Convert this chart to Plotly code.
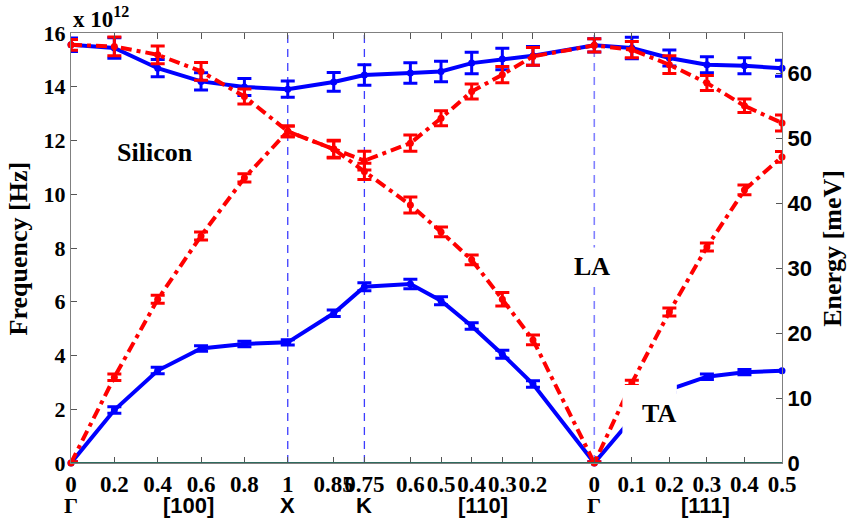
import numpy as np
import plotly.graph_objects as go

# Reduced wave-vector coordinates along each high-symmetry direction
q100 = [0, 0.2, 0.4, 0.6, 0.8, 1.0]
q110 = [1.0, 0.85, 0.75, 0.60, 0.50, 0.40, 0.30, 0.2, 0]
q111 = [0, 0.1, 0.2, 0.3, 0.4, 0.5]

tick100 = ["0", "0.2", "0.4", "0.6", "0.8", "1"]
tick110 = ["0.85", "0.75", "0.6", "0.5", "0.4", "0.3", "0.2", "0"]
tick111 = ["0.1", "0.2", "0.3", "0.4", "0.5"]

# Phonon frequencies (units of 1e12 Hz) and their uncertainties
ta100 = [0, 1.97, 3.44, 4.26, 4.43, 4.49]
ta110 = [4.49, 5.57, 6.56, 6.66, 6.04, 5.10, 4.05, 2.94, 0]
ta111 = [0, 1.65, 2.73, 3.21, 3.38, 3.43]
ta_err100 = [0.05, 0.12, 0.12, 0.10, 0.10, 0.10]
ta_err110 = [0.10, 0.12, 0.15, 0.18, 0.15, 0.12, 0.15, 0.12, 0.05]
ta_err111 = [0.05, 0.10, 0.10, 0.10, 0.10, 0.0]

to100 = [15.56, 15.44, 14.69, 14.20, 13.99, 13.91]
to110 = [13.91, 14.18, 14.44, 14.51, 14.57, 14.88, 15.03, 15.15, 15.54]
to111 = [15.54, 15.44, 15.07, 14.82, 14.78, 14.69]
to_err100 = [0.25, 0.38, 0.32, 0.32, 0.32, 0.30]
to_err110 = [0.30, 0.35, 0.38, 0.38, 0.38, 0.40, 0.40, 0.35, 0.25]
to_err111 = [0.25, 0.40, 0.30, 0.30, 0.30, 0.30]

la100 = [0, 3.19, 6.09, 8.45, 10.61, 12.34]
la110 = [12.34, 11.68, 10.85, 9.60, 8.60, 7.56, 6.09, 4.58, 0]
la111 = [0, 2.98, 5.62, 8.04, 10.16, 11.39]
la_err100 = [0.05, 0.12, 0.15, 0.15, 0.15, 0.20]
la_err110 = [0.20, 0.30, 0.30, 0.30, 0.18, 0.18, 0.25, 0.18, 0.05]
la_err111 = [0.05, 0.10, 0.15, 0.15, 0.18, 0.20]

lo100 = [15.56, 15.50, 15.19, 14.57, 13.64, 12.34]
lo110 = [12.34, 11.68, 11.25, 11.90, 12.83, 13.82, 14.45, 15.13, 15.54]
lo111 = [15.54, 15.38, 14.82, 14.14, 13.29, 12.65]
lo_err100 = [0.20, 0.35, 0.33, 0.33, 0.28, 0.20]
lo_err110 = [0.20, 0.33, 0.35, 0.30, 0.28, 0.28, 0.30, 0.33, 0.25]
lo_err111 = [0.25, 0.30, 0.33, 0.28, 0.25, 0.30]

S2, S3 = np.sqrt(2.0), np.sqrt(3.0)


def path_x():
    """Map each direction's reduced q onto a continuous path length."""
    x100 = [q for q in q100]
    x110 = [1 + (1 - q) * S2 for q in q110]
    x111 = [1 + S2 + q * S3 for q in q111]
    return x100 + x110[1:] + x111[1:]


def join(a, b, c):
    return list(a) + list(b)[1:] + list(c)[1:]


X = path_x()
X_PT = 1.0
K_PT = 1 + (1 - 0.75) * S2
G_PT = 1 + S2
X_END = 1 + S2 + 0.5 * S3

# 1e12 Hz -> meV (h = 4.135667696e-15 eV s)
F_MAX = 16.0
E_MAX = F_MAX * 1e12 * 4.135667696e-15 * 1e3

BLUE = "#0000ff"
RED = "#ff0000"
SERIF = "Liberation Serif"
SANS = "Liberation Sans"
DASHDOT = "11px,5px,4px,5px"

fig = go.Figure()


def add_branch(y, err, color, dash):
    fig.add_trace(go.Scatter(
        x=X, y=y, mode="lines+markers",
        line=dict(color=color, width=4, dash=dash),
        marker=dict(color=color, size=7, symbol="circle"),
        error_y=dict(type="data", array=err, visible=True,
                     color=color, thickness=3, width=7),
        cliponaxis=False, showlegend=False, hoverinfo="skip",
    ))


add_branch(join(ta100, ta110, ta111), join(ta_err100, ta_err110, ta_err111), BLUE, "solid")
add_branch(join(to100, to110, to111), join(to_err100, to_err110, to_err111), BLUE, "solid")
add_branch(join(la100, la110, la111), join(la_err100, la_err110, la_err111), RED, DASHDOT)
add_branch(join(lo100, lo110, lo111), join(lo_err100, lo_err110, lo_err111), RED, DASHDOT)

# Secondary axis carrier (energy scale)
fig.add_trace(go.Scatter(x=[0], y=[0], yaxis="y2", mode="markers",
                         marker=dict(opacity=0), showlegend=False, hoverinfo="skip"))

shapes = []
for xv, col, w in [(X_PT, "#3c3cff", 1.3), (K_PT, "#3c3cff", 1.3), (G_PT, "#8080ff", 1.6)]:
    shapes.append(dict(type="line", xref="x", yref="paper", x0=xv, x1=xv, y0=0, y1=1,
                       line=dict(color=col, width=w, dash="8px,6px"), layer="below"))
# baseline along zero frequency
shapes.append(dict(type="line", xref="paper", yref="y", x0=0, x1=1, y0=0, y1=0,
                   line=dict(color="#2e6b5e", width=2), layer="above"))
# white backing behind the TA label
shapes.append(dict(type="rect", xref="x", yref="y", x0=2.544, x1=2.795, y0=0.85, y1=2.90,
                   fillcolor="white", line=dict(width=0), layer="above"))

annotations = [
    dict(text="<b>Silicon</b>", x=0.389, y=11.55, xref="x", yref="y", showarrow=False,
         font=dict(family=SERIF, size=26, color="black")),
    dict(text="<b>LA</b>", x=2.403, y=7.30, xref="x", yref="y", showarrow=False,
         bgcolor="white", borderpad=4, font=dict(family=SERIF, size=26, color="black")),
    dict(text="<b>TA</b>", x=2.714, y=1.85, xref="x", yref="y", showarrow=False,
         font=dict(family=SERIF, size=26, color="black")),
    dict(text="<b>x 10<sup>12</sup></b>", x=0.0, y=1.035, xref="paper", yref="paper",
         xanchor="left", yanchor="middle", showarrow=False,
         font=dict(family=SERIF, size=23, color="black")),
    dict(text="<b>Frequency [Hz]</b>", x=-0.074, y=0.5, xref="paper", yref="paper",
         xanchor="center", yanchor="middle",
         textangle=-90, showarrow=False, font=dict(family=SERIF, size=26, color="black")),
    dict(text="<b>Energy [meV]</b>", x=1.07, y=0.5, xref="paper", yref="paper",
         xanchor="center", yanchor="middle",
         textangle=-90, showarrow=False, font=dict(family=SERIF, size=26, color="black")),
]

# symmetry points and directions under the axis
for txt, xv, fam in [("Γ", 0.0, SERIF), ("[100]", 0.544, SANS), ("X", X_PT, SANS),
                     ("K", K_PT, SANS), ("[110]", 1.903, SANS), ("Γ", G_PT, SERIF),
                     ("[111]", 2.926, SANS)]:
    annotations.append(dict(text=f"<b>{txt}</b>", x=xv, y=-0.098, xref="x", yref="paper",
                            xanchor="center", showarrow=False, yanchor="middle",
                            font=dict(family=fam, size=22, color="black")))

fig.update_layout(
    width=848, height=525,
    margin=dict(l=71, r=66, t=33, b=62),
    paper_bgcolor="white", plot_bgcolor="white",
    xaxis=dict(range=[0, X_END], tickvals=X, ticktext=tick100 + tick110 + tick111,
               ticks="inside", ticklen=6, tickcolor="#555", showline=True,
               linecolor="#808080", linewidth=1.2, mirror="ticks", showgrid=False,
               zeroline=False, tickangle=0,
               tickfont=dict(family=SERIF, size=23, color="black", weight="bold")),
    yaxis=dict(range=[0, F_MAX], tickvals=list(range(0, 17, 2)),
               ticks="inside", ticklen=6, tickcolor="#555", showline=True,
               linecolor="#808080", linewidth=1.2, showgrid=False, zeroline=False,
               tickfont=dict(family=SERIF, size=22, color="black", weight="bold")),
    yaxis2=dict(range=[0, E_MAX], tickvals=list(range(0, 61, 10)), overlaying="y",
                side="right", ticks="inside", ticklen=6, tickcolor="#555", showline=True,
                linecolor="#808080", linewidth=1.2, showgrid=False, zeroline=False,
                tickfont=dict(family=SANS, size=22, color="black", weight="bold")),
    shapes=shapes,
    annotations=annotations,
    showlegend=False,
)

fig.write_html("out.html")
